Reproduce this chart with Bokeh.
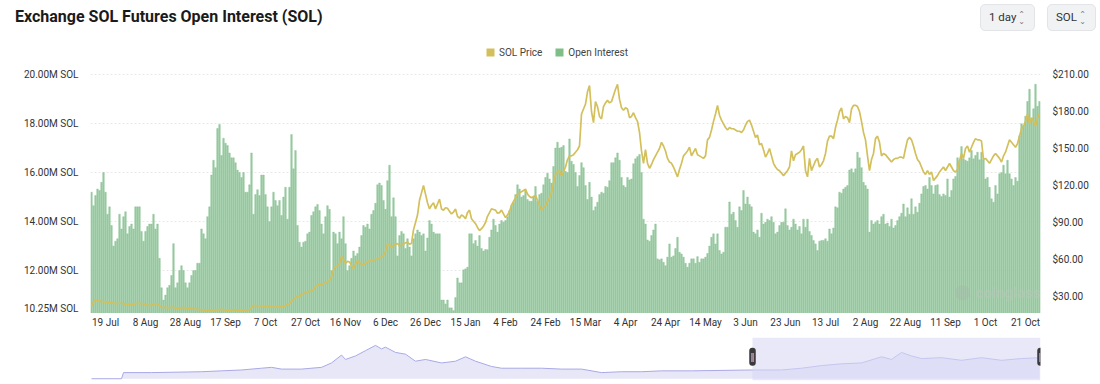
import pandas as pd
from bokeh.plotting import figure
from bokeh.models import (Range1d, LinearAxis, FixedTicker, ColumnDataSource, Legend,
                          LegendItem, BoxAnnotation, NumeralTickFormatter, Label, Div)
from bokeh.layouts import column
from bokeh.embed import file_html
from bokeh.resources import INLINE
from bokeh.core.properties import value

# ---------------- data ----------------
start_date = "2023-07-12"

oi_million = [
    15.2, 14.65, 15.06, 15.33, 15.27, 15.6, 16.0, 15.2, 14.3, 14.6,
    13.84, 13.0, 13.2, 13.3, 14.3, 13.7, 14.2, 14.4, 13.5, 13.8,
    13.9, 13.7, 14.6, 14.6, 14.6, 13.6, 13.2, 13.6, 13.8, 13.9,
    13.9, 14.3, 13.7, 13.9, 12.5, 11.3, 10.8, 11.0, 11.3, 11.4,
    11.8, 13.1, 11.3, 11.5, 12.0, 12.2, 12.0, 11.5, 11.3, 11.5,
    11.8, 12.0, 12.0, 12.3, 12.3, 13.7, 13.5, 13.3, 14.2, 14.6,
    15.9, 16.5, 16.2, 17.8, 17.96, 16.7, 17.4, 17.2, 17.1, 16.8,
    16.6, 16.6, 16.4, 16.1, 16.0, 15.8, 16.0, 15.2, 15.2, 15.5,
    16.8, 14.3, 15.1, 15.3, 15.06, 15.9, 15.9, 15.1, 14.6, 14.0,
    14.6, 15.2,
    14.86, 14.65, 14.86, 14.25, 15.0, 15.4, 14.1, 15.4, 17.55, 16.15,
    16.9, 13.84, 13.16, 12.96, 13.16, 13.2, 13.5, 13.57, 14.25, 14.4,
    14.6, 14.7, 14.45, 13.9, 13.5, 14.2, 14.65, 14.5, 12.0, 13.57,
    13.5, 13.1, 13.57, 13.3, 14.2, 13.1, 12.0, 12.2, 12.5, 12.8,
    12.6, 12.7, 12.96, 13.43, 13.84, 13.77, 13.9, 13.7, 14.3, 14.45,
    14.75, 15.5, 15.57, 15.47, 14.86, 14.5, 15.67, 16.3, 14.2, 14.97,
    14.2, 12.6, 13.43, 13.6, 13.5, 12.9, 13.3, 12.96, 12.6, 13.3,
    13.5, 13.66, 13.57, 13.43, 13.5, 12.8, 13.33, 14.04, 13.9, 13.57,
    13.5, 13.5, 13.5, 10.8, 10.8, 10.64, 10.8, 10.48, 10.48, 10.37,
    10.9, 11.7, 11.5,
    11.5, 12.03, 12.07, 12.14, 13.5, 13.5, 13.1, 13.23, 13.0, 13.43,
    12.9, 12.8, 12.86, 12.85, 13.36, 13.66, 14.1, 13.84, 13.57, 13.9,
    14.04, 13.97, 14.04, 14.2, 14.45, 14.65, 14.79, 15.1, 15.5, 15.33,
    15.0, 15.06, 15.27, 14.9, 14.83, 14.83, 15.0, 15.43, 14.83, 15.1,
    15.16, 15.5, 15.8, 15.97, 15.74, 15.57, 16.25, 17.0, 17.24, 17.0,
    17.03, 17.1, 16.05, 16.0, 17.37, 16.46, 16.33, 16.0, 15.43, 15.88,
    16.4, 16.2, 15.47, 14.9, 15.6, 15.0, 14.45, 14.6, 14.79, 15.1,
    15.2, 15.16, 15.43, 15.4, 15.67, 16.4, 16.4, 16.6, 16.8, 16.5,
    15.8, 15.47, 15.4, 15.8, 15.7, 15.74, 16.36, 16.56, 16.65, 16.74,
    16.0, 14.1, 13.9,
    13.25, 13.2, 13.43, 13.66, 13.9, 12.48, 12.44, 12.48, 12.34, 12.2,
    12.55, 13.09, 12.55, 12.6, 12.9, 13.36, 12.75, 12.68, 12.55, 12.3,
    12.14, 12.3, 12.48, 12.48, 12.3, 12.57, 12.34, 12.48, 12.48, 12.55,
    12.7, 13.0, 13.36, 13.5, 13.09, 13.5, 12.82, 12.68, 12.75, 13.77,
    13.77, 14.8, 14.3, 14.38, 14.04, 13.77, 14.6, 14.45, 15.27, 14.72,
    15.0, 14.7, 14.6, 13.57, 13.5, 13.66, 13.36, 14.34, 13.9, 13.97,
    14.1, 14.04, 14.2, 13.97, 13.5, 13.57, 13.84, 13.97, 13.97, 14.52,
    13.84, 13.66, 13.77, 14.1, 13.9, 13.66, 13.8, 13.5, 14.1, 13.77,
    14.1, 13.6, 13.43, 13.23, 13.09, 12.82, 13.2, 13.23, 13.23, 13.3,
    13.2, 13.7,
    13.5, 13.74, 14.6, 14.56, 15.2, 15.16, 15.33, 15.4, 15.47, 16.1,
    16.15, 16.0, 16.15, 16.83, 16.6, 16.2, 15.6, 15.47, 15.33, 13.57,
    14.04, 13.9, 13.97, 14.04, 13.9, 14.2, 14.3, 13.9, 13.94, 13.8,
    14.1, 13.74, 13.84, 14.04, 14.2, 14.34, 14.72, 14.2, 14.56, 14.3,
    14.93, 14.3, 14.6, 14.38, 14.75, 15.13, 15.43, 15.47, 15.33, 15.8,
    15.47, 15.13, 15.47, 15.5, 15.1, 15.02, 15.13, 15.06, 15.74, 15.0,
    15.27, 15.74, 15.84, 16.6, 16.5, 17.06, 16.56, 16.5, 16.46, 16.6,
    16.9, 16.56, 16.7, 16.83, 16.52, 16.83, 16.52, 15.74, 15.8, 15.4,
    14.93, 14.79, 15.47, 15.13, 15.95, 16.0, 16.3, 15.95, 16.5, 15.95,
    15.74, 15.47, 15.8, 15.65, 17.5, 17.99, 17.92, 18.3, 18.9, 19.4,
    18.2, 18.6, 19.6, 18.7, 18.9,
]

sol_price = [
    22.5, 25.5, 27.0, 26.5, 26.8, 26.0, 25.5, 25.8, 25.2, 24.8,
    24.9, 24.6, 24.2, 24.3, 24.6, 24.5, 24.2, 23.8, 24.0, 23.6,
    23.4, 23.8, 24.2, 24.5, 24.4, 24.2, 24.0, 23.5, 23.0, 22.6,
    23.0, 23.8, 24.2, 23.9, 22.5, 21.2, 21.0, 21.3, 21.0, 20.8,
    21.4, 21.2, 20.6, 20.8, 20.5, 20.9, 21.2, 20.2, 20.0, 20.5,
    20.4, 19.9, 19.8, 19.6, 19.4, 19.2, 18.9, 18.6, 18.8, 18.4,
    18.6, 18.8, 19.1, 19.3, 19.2, 19.5, 19.3, 19.0, 18.9, 19.2,
    19.0, 19.3, 19.1, 18.8, 18.5, 18.7, 18.9, 19.2, 19.0, 19.3,
    21.0, 22.8, 22.6, 22.4, 22.5, 22.2, 22.0, 21.8, 21.9, 21.5,
    21.7, 21.4,
    21.3, 21.6, 21.8, 21.5, 21.9, 22.5, 23.5, 24.0, 26.5, 27.5,
    28.8, 30.5, 30.0, 31.5, 32.5, 33.0, 33.5, 34.5, 34.0, 35.5,
    38.0, 39.5, 40.0, 39.0, 40.5, 41.0, 42.0, 43.0, 46.0, 52.0,
    54.0, 55.0, 56.5, 62.5, 60.0, 57.0, 58.5, 58.0, 55.0, 52.5,
    56.0, 59.0, 57.5, 56.0, 55.5, 57.0, 58.0, 59.0, 58.5, 59.5,
    60.0, 60.5, 61.5, 62.0, 63.5, 66.0, 73.0, 72.0, 70.0, 71.5,
    72.5, 73.0, 71.0, 71.5, 72.5, 73.5, 74.0, 72.5, 73.0, 84.0,
    90.0, 96.0, 108.0, 114.0, 120.0, 113.0, 106.0, 101.0, 104.0, 106.0,
    101.0, 105.0, 109.0, 101.0, 100.0, 102.0, 101.5, 99.0, 97.0, 98.5,
    101.0, 95.0, 93.5,
    96, 95, 93, 98, 100, 93, 91, 89, 86, 83.5,
    85, 87, 90, 95, 98, 101, 100.5, 100, 97.5, 98,
    100, 97, 94, 96, 99, 104, 107, 110, 113, 114,
    115, 116, 117, 113, 111, 110, 111, 112, 108, 104,
    100, 102, 104, 107, 110, 114, 122, 129, 131, 132,
    128, 131, 135, 141, 144, 144, 145, 147, 149, 152,
    178, 182, 186, 196, 201, 180, 171, 188, 184, 176,
    174, 184, 187, 189, 187, 188, 193, 198, 202, 190,
    183, 181, 183, 182, 175, 176, 179, 175, 172, 163,
    148, 138, 149,
    138, 134, 137, 141, 144, 147, 150, 155, 152, 148,
    142, 139, 138, 135, 131, 127, 133, 138, 144, 146,
    148, 151, 144, 147, 150, 145, 144, 143, 142, 144,
    157, 159, 165, 172, 178, 185, 177, 173, 170, 167,
    165, 167, 166, 166, 165, 164, 164, 163, 165, 169,
    172, 173, 169, 164, 159, 161, 153, 154, 149, 143,
    146, 150, 144, 138, 135, 133, 132, 130, 128, 130,
    132, 135, 148, 140, 145, 146, 147, 149, 152, 132,
    127, 142, 132, 136, 140, 142, 135, 137, 140, 146,
    156, 160,
    160, 158, 167, 173, 180, 183, 174, 176, 175, 171,
    182, 185, 185, 184, 180, 172, 163, 157, 144, 132,
    141, 146, 158, 160, 155, 144, 146, 145, 143, 141,
    139, 141, 142, 142, 143, 143, 142, 150, 157, 159,
    157, 152, 146, 141, 139, 135, 131, 129, 132, 129,
    131, 124, 126, 128, 131, 133, 135, 132, 135, 138,
    135, 132, 131, 133, 140, 146, 142, 150, 152, 147,
    151, 155, 158, 157, 157, 156, 141, 142, 140, 138,
    141, 144, 146, 144, 142, 139, 144, 147, 152, 157,
    155, 153, 151, 154, 160, 166, 168, 172, 178, 170,
    175, 172, 168, 175, 178,
]

tick_dates = ["2023-07-19", "2023-08-08", "2023-08-28", "2023-09-17", "2023-10-07",
              "2023-10-27", "2023-11-16", "2023-12-06", "2023-12-26", "2024-01-15",
              "2024-02-04", "2024-02-24", "2024-03-15", "2024-04-04", "2024-04-24",
              "2024-05-14", "2024-06-03", "2024-06-23", "2024-07-13", "2024-08-02",
              "2024-08-22", "2024-09-11", "2024-10-01", "2024-10-21"]
tick_labels = ["19 Jul", "8 Aug", "28 Aug", "17 Sep", "7 Oct", "27 Oct", "16 Nov", "6 Dec",
               "26 Dec", "15 Jan", "4 Feb", "24 Feb", "15 Mar", "4 Apr", "24 Apr", "14 May",
               "3 Jun", "23 Jun", "13 Jul", "2 Aug", "22 Aug", "11 Sep", "1 Oct", "21 Oct"]

left_ticks = [10.25, 12.0, 14.0, 16.0, 18.0, 20.0]
left_tick_labels = ["10.25M SOL", "12.00M SOL", "14.00M SOL", "16.00M SOL", "18.00M SOL", "20.00M SOL"]
right_ticks = [30, 60, 90, 120, 150, 180, 210]

# navigator overview series (day offset, relative level)
nav_day = [0, 15, 16, 30, 55, 65, 75, 85, 90, 95, 105, 115, 120, 125, 127, 132, 137, 142, 145,
           147, 152, 157, 162, 167, 175, 182, 187, 192, 200, 205, 215, 225, 235, 245, 255,
           265, 275, 285, 300, 330, 345, 355, 365, 375, 385, 395, 400, 405, 410, 415, 425,
           435, 445, 455, 465, 474]
nav_val = [0, 0, 7, 7, 8, 9, 10, 12, 13, 11, 11, 13, 18, 27, 22, 26, 32, 38, 34,
           36, 30, 28, 20, 22, 18, 20, 25, 20, 14, 12, 12, 12, 11, 11, 7,
           8, 8, 9, 9, 10, 10, 12, 15, 17, 18, 25, 22, 30, 26, 23, 24,
           21, 24, 21, 23, 24]

n = min(len(oi_million), len(sol_price))
dates = pd.date_range(start_date, periods=n, freq="D")
days = list(range(n))
start = pd.Timestamp(start_date)
tick_pos = [(pd.Timestamp(d) - start).days for d in tick_dates]

BG = "#ffffff"
PRICE_C = "#d3c05c"
OI_C = "#86d69c"
OI_EDGE = "#95b998"
OI_LEGEND = "#7fbf87"
FONT = "Roboto"
W = 1100

# ---------------- header (title + selectors) ----------------
chev = ('<span style="position:absolute;right:9px;top:6px;display:flex;flex-direction:column;'
        'font-family:\'DejaVu Sans\';font-size:8px;line-height:7px;color:#777">'
        '<span>&#x2303;</span><span>&#x2304;</span></span>')
btn_css = ("position:absolute;top:4px;height:27px;box-sizing:border-box;background:#f1f2f4;"
           "border:1px solid #e3e4e8;border-radius:5px;font-family:Roboto;font-size:11.5px;"
           "color:#333;line-height:25px;")
header_html = (
    '<div style="position:relative;width:1100px;height:42px;background:#ffffff;">'
    '<span style="position:absolute;left:15px;top:7px;font-family:Roboto;font-size:16px;'
    'font-weight:700;color:#1a1a1a;white-space:nowrap;line-height:20px;">'
    'Exchange SOL Futures Open Interest (SOL)</span>'
    f'<div style="{btn_css}left:980px;width:55px;padding-left:8px;">1 day{chev}</div>'
    f'<div style="{btn_css}left:1047px;width:49px;padding-left:8px;">SOL{chev}</div>'
    '</div>'
)
header = Div(text=header_html, width=W, height=42, margin=0)

# ---------------- main chart ----------------
# frame: page-y 42..313 ; 20M at y=74 ; 10.25M at y=313
PX_PER_M = 239 / 9.75
PX_PER_USD = 222 / 180
y_end = 20.0 + 32 / PX_PER_M
p_end = 210 + 32 / PX_PER_USD

p = figure(width=W, height=271, x_range=Range1d(-0.5, n - 0.5), y_range=Range1d(10.25, y_end),
           toolbar_location=None, output_backend="svg", x_axis_location=None,
           min_border_left=90, min_border_right=60, min_border_top=0, min_border_bottom=0,
           background_fill_color=BG, border_fill_color=BG, outline_line_color=None)
p.extra_y_ranges = {"price": Range1d(16.2, p_end)}

src = ColumnDataSource(dict(day=days, oi=oi_million[:n], price=sol_price[:n],
                            date=[d.strftime("%Y-%m-%d") for d in dates]))
p.vbar(x="day", top="oi", bottom=0, width=0.8, source=src,
       fill_color=OI_C, line_color=OI_EDGE, line_width=0.4)
p.line(x="day", y="price", source=src, y_range_name="price",
       line_color=PRICE_C, line_width=1.7)

# faint watermark
p.scatter(x=[435.5], y=[11.1], marker="circle", size=15, fill_color="#aab5aa",
          fill_alpha=0.35, line_color=None)
p.text(x=[442], y=[11.1], text=["coinglass"], text_font=value(FONT), text_font_size="15px",
       text_font_style="bold", text_color="#bcc6bc", text_alpha=0.55, text_baseline="middle")

p.xgrid.visible = False
p.ygrid.grid_line_color = "#e8e8e8"
p.ygrid.grid_line_dash = "2 2"
p.ygrid.ticker = FixedTicker(ticks=left_ticks)

ly = p.yaxis[0]
ly.axis_line_color = None
ly.major_tick_line_color = None
ly.minor_tick_line_color = None
ly.major_label_text_font = FONT
ly.major_label_text_font_size = "10px"
ly.major_label_text_color = "#333333"
ly.ticker = FixedTicker(ticks=left_ticks)
ly.major_label_overrides = {t: l for t, l in zip(left_ticks, left_tick_labels)}
ly.major_label_standoff = 6

rax = LinearAxis(y_range_name="price", ticker=FixedTicker(ticks=right_ticks),
                 formatter=NumeralTickFormatter(format="$0.00"))
rax.axis_line_color = None
rax.major_tick_line_color = None
rax.minor_tick_line_color = None
rax.major_label_text_font = FONT
rax.major_label_text_font_size = "10px"
rax.major_label_text_color = "#333333"
rax.major_label_standoff = 6
p.add_layout(rax, "right")

# legend swatches (one off-screen square each so the legend has something to draw)
sw = ColumnDataSource(dict(l=[-50], r=[-49], t=[5], b=[4]))
r1 = p.quad(left="l", right="r", top="t", bottom="b", source=sw, fill_color=PRICE_C, line_color=None)
r2 = p.quad(left="l", right="r", top="t", bottom="b", source=sw, fill_color=OI_LEGEND, line_color=None)
legend = Legend(items=[LegendItem(label="SOL Price", renderers=[r1]),
                       LegendItem(label="Open Interest", renderers=[r2])],
                orientation="horizontal", location=(395, 255),
                label_text_font=FONT, label_text_font_size="10px", label_text_color="#444444",
                glyph_width=10, glyph_height=10, label_height=12, label_standoff=4,
                spacing=12, padding=2, margin=0, border_line_color=None,
                background_fill_alpha=0)
p.add_layout(legend)

# ---------------- navigator with the date axis above ----------------
nv = figure(width=W, height=71, x_range=p.x_range, y_range=Range1d(-2, 47),
            x_axis_location="above", y_axis_location=None, toolbar_location=None,
            output_backend="svg", min_border_left=90, min_border_right=60,
            min_border_top=18, min_border_bottom=4, outline_line_color=None,
            background_fill_color=BG, border_fill_color=BG)
nv.grid.visible = False
xa = nv.xaxis[0]
xa.axis_line_color = None
xa.major_tick_line_color = None
xa.minor_tick_line_color = None
xa.major_label_text_font = FONT
xa.major_label_text_font_size = "10px"
xa.major_label_text_color = "#333333"
xa.ticker = FixedTicker(ticks=tick_pos)
xa.major_label_overrides = {t: l for t, l in zip(tick_pos, tick_labels)}
xa.major_label_standoff = 4

nv.varea(x=nav_day, y1=[0] * len(nav_day), y2=nav_val, fill_color="#e7e7f8")
nv.line(x=nav_day, y=nav_val, line_color="#a9a9e6", line_width=1)
sel_left, sel_right = 330.5, n - 0.5
nv.add_layout(BoxAnnotation(left=sel_left, right=sel_right, fill_color="#d9d9f5",
                            fill_alpha=0.6, line_color=None))
for hx in [sel_left, sel_right]:
    nv.add_layout(Label(x=hx, y=25, text="\u2016", text_font="DejaVu Sans",
                        text_font_size="9px", text_color="#d0d0d0", text_align="center",
                        text_baseline="middle", background_fill_color="#3a3a3a",
                        border_radius=3, padding=dict(left=1, right=1, top=4, bottom=4)))

layout = column(header, p, nv, spacing=0)
open("out.html", "w").write(file_html(layout, INLINE))
